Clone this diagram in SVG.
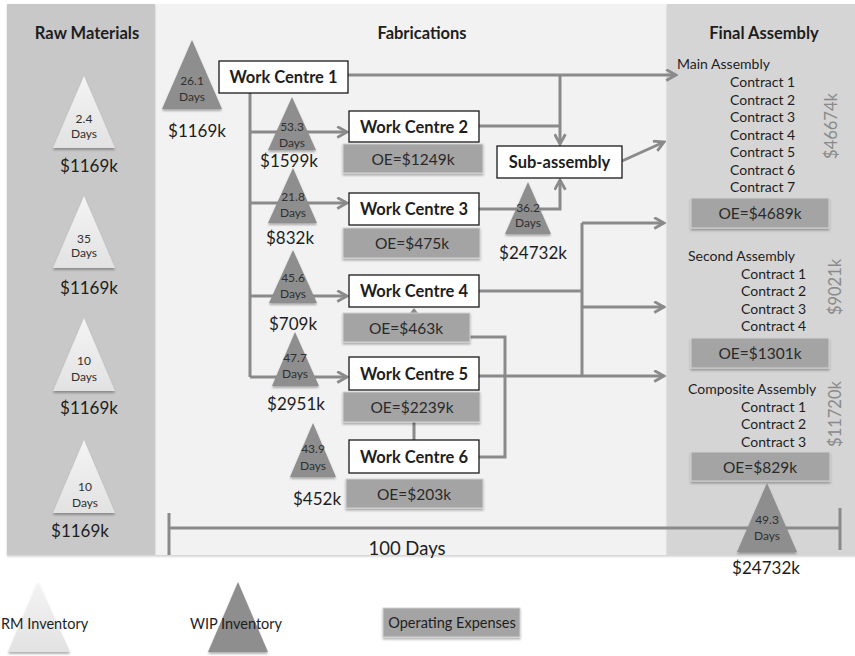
<svg xmlns="http://www.w3.org/2000/svg" width="855" height="656" viewBox="0 0 855 656">
  <style>
    text { font-family: Lato, "Liberation Sans", "DejaVu Sans", sans-serif; fill: #1e1e1e; dominant-baseline: central; }
    .hdr { font-size: 16.5px; font-weight: bold; text-anchor: middle; }
    .wc { font-size: 16.5px; font-weight: bold; text-anchor: middle; }
    .box { fill: #ffffff; stroke: #1a1a1a; stroke-width: 1.3; }
    .oe { fill: #a4a4a4; stroke: #d2d2d2; stroke-width: 1; filter: url(#shadow); }
    .oet { font-size: 15.5px; text-anchor: middle; fill: #2a2a2a; }
    .rm { fill: url(#rmGrad); filter: url(#shadow); }
    .wip { fill: #8e8e8e; filter: url(#shadow); }
    .tt { font-size: 12px; text-anchor: middle; fill: #303030; }
    .val { font-size: 17px; text-anchor: middle; }
    .ct { font-size: 14px; }
    .tot { font-size: 16.5px; text-anchor: middle; fill: #8a8a8a; }
    .conn { fill: none; stroke: #8a8a8a; stroke-width: 3; }
    .arr { marker-end: url(#chev); }
  </style>
  <defs>
    <linearGradient id="rmGrad" x1="0" y1="0" x2="0" y2="1">
      <stop offset="0" stop-color="#f4f4f4"/>
      <stop offset="1" stop-color="#e2e2e2"/>
    </linearGradient>
    <filter id="shadow" x="-20%" y="-20%" width="140%" height="150%">
      <feDropShadow dx="0" dy="2" stdDeviation="1.2" flood-color="#000" flood-opacity="0.3"/>
    </filter>
    <filter id="panelShadow" x="-5%" y="-5%" width="110%" height="110%">
      <feDropShadow dx="0" dy="1.5" stdDeviation="1" flood-color="#000" flood-opacity="0.2"/>
    </filter>
    <marker id="chev" viewBox="0 0 12 12" refX="10" refY="6" markerWidth="13" markerHeight="13" markerUnits="userSpaceOnUse" orient="auto">
      <path d="M1,1 L10,6 L1,11" fill="none" stroke="#8a8a8a" stroke-width="2.6"/>
    </marker>
  </defs>

  <!-- stage panels -->
  <g id="panels">
    <rect x="0" y="0" width="855" height="656" fill="#ffffff"/>
    <rect x="155" y="4" width="512" height="551" fill="#f2f2f2" filter="url(#panelShadow)"/>
    <rect x="7" y="4" width="148" height="551" fill="#c8c8c8" filter="url(#panelShadow)"/>
    <rect x="667" y="4" width="190" height="551" fill="#d5d5d5" filter="url(#panelShadow)"/>
    <text class="hdr" x="87" y="33">Raw Materials</text>
    <text class="hdr" x="422" y="33">Fabrications</text>
    <text class="hdr" x="764" y="33">Final Assembly</text>
  </g>

  <!-- connectors -->
  <g id="connectors">
    <path class="conn" d="M250,93 V377"/>
    <path class="conn arr" d="M250,132 H347"/>
    <path class="conn arr" d="M250,203 H347"/>
    <path class="conn arr" d="M250,296 H347"/>
    <path class="conn arr" d="M250,377 H347"/>
    <path class="conn arr" d="M348,75 H676"/>
    <path class="conn arr" d="M560,75 V144"/>
    <path class="conn" d="M479,126 H560"/>
    <path class="conn arr" d="M479,209 H560 V180"/>
    <path class="conn arr" d="M622,161 L664,142"/>
    <path class="conn" d="M479,291 H582"/>
    <path class="conn" d="M582,223 V377"/>
    <path class="conn arr" d="M582,223 H664"/>
    <path class="conn arr" d="M582,307 H664"/>
    <path class="conn arr" d="M479,376 H664"/>
    <path class="conn" d="M470,337 H505 V457 H479"/>
    <path class="conn" d="M414,422 V440"/>
    <polygon points="414,308 410,313 418,313" fill="#8a8a8a"/>
    <!-- time scale -->
    <path class="conn" d="M169,528 H840 M169,513 V555 M840,508 V550" stroke="#7e7e7e"/>
  </g>

  <!-- raw material stocks -->
  <g id="rm1">
    <polygon class="rm" points="84,76 53,148 115,148"/>
    <text class="tt" x="84" y="118">2.4</text>
    <text class="tt" x="84" y="133">Days</text>
    <text class="val" x="89" y="165">$1169k</text>
  </g>
  <g id="rm2">
    <polygon class="rm" points="84,196 53,268 115,268"/>
    <text class="tt" x="84" y="238">35</text>
    <text class="tt" x="84" y="252">Days</text>
    <text class="val" x="89" y="287">$1169k</text>
  </g>
  <g id="rm3">
    <polygon class="rm" points="84,318 53,391 115,391"/>
    <text class="tt" x="84" y="360">10</text>
    <text class="tt" x="84" y="376">Days</text>
    <text class="val" x="89" y="407">$1169k</text>
  </g>
  <g id="rm4">
    <polygon class="rm" points="84,440 53,513 115,513"/>
    <text class="tt" x="85" y="486">10</text>
    <text class="tt" x="85" y="502">Days</text>
    <text class="val" x="80" y="530">$1169k</text>
  </g>

  <!-- work in progress stocks -->
  <g id="wip1">
    <polygon class="wip" points="192,40 162,109 222,109"/>
    <text class="tt" x="192" y="80">26.1</text>
    <text class="tt" x="192" y="96">Days</text>
    <text class="val" x="197" y="130">$1169k</text>
  </g>
  <g id="wip2">
    <polygon class="wip" points="292,97 268,150 316,150"/>
    <text class="tt" x="292" y="126">53.3</text>
    <text class="tt" x="292" y="142">Days</text>
    <text class="val" x="289" y="160">$1599k</text>
  </g>
  <g id="wip3">
    <polygon class="wip" points="293,168 268,223 317,223"/>
    <text class="tt" x="293" y="196">21.8</text>
    <text class="tt" x="293" y="212">Days</text>
    <text class="val" x="290" y="237">$832k</text>
  </g>
  <g id="wip4">
    <polygon class="wip" points="293,250 269,303 317,303"/>
    <text class="tt" x="293" y="277">45.6</text>
    <text class="tt" x="293" y="293">Days</text>
    <text class="val" x="293" y="323">$709k</text>
  </g>
  <g id="wip5">
    <polygon class="wip" points="295,332 272,386 319,386"/>
    <text class="tt" x="295" y="357">47.7</text>
    <text class="tt" x="295" y="373">Days</text>
    <text class="val" x="296" y="403">$2951k</text>
  </g>
  <g id="wip6">
    <polygon class="wip" points="313,423 290,477 336,477"/>
    <text class="tt" x="313" y="448">43.9</text>
    <text class="tt" x="313" y="465">Days</text>
    <text class="val" x="317" y="498">$452k</text>
  </g>
  <g id="wip-sub">
    <polygon class="wip" points="528,182 505,234 551,234"/>
    <text class="tt" x="528" y="207">36.2</text>
    <text class="tt" x="528" y="222">Days</text>
    <text class="val" x="533" y="252">$24732k</text>
  </g>

  <!-- work centres -->
  <g id="wc1">
    <rect class="box" x="219" y="61" width="129" height="32"/>
    <text class="wc" x="283.5" y="77">Work Centre 1</text>
  </g>
  <g id="wc2">
    <rect class="box" x="349" y="111" width="130" height="31"/>
    <text class="wc" x="414" y="127">Work Centre 2</text>
    <rect class="oe" x="343" y="144" width="140" height="29"/>
    <text class="oet" x="413" y="158.5">OE=$1249k</text>
  </g>
  <g id="wc3">
    <rect class="box" x="349" y="193" width="130" height="32"/>
    <text class="wc" x="414" y="209">Work Centre 3</text>
    <rect class="oe" x="343" y="228" width="137" height="30"/>
    <text class="oet" x="412" y="243">OE=$475k</text>
  </g>
  <g id="wc4">
    <rect class="box" x="349" y="275" width="130" height="32"/>
    <text class="wc" x="414" y="291">Work Centre 4</text>
    <rect class="oe" x="343" y="313" width="127" height="29"/>
    <text class="oet" x="406" y="327.5">OE=$463k</text>
  </g>
  <g id="wc5">
    <rect class="box" x="349" y="357" width="130" height="33"/>
    <text class="wc" x="414" y="374">Work Centre 5</text>
    <rect class="oe" x="343" y="392" width="137" height="30"/>
    <text class="oet" x="412" y="407">OE=$2239k</text>
  </g>
  <g id="wc6">
    <rect class="box" x="349" y="440" width="130" height="33"/>
    <text class="wc" x="414" y="457">Work Centre 6</text>
    <rect class="oe" x="346" y="479" width="137" height="29"/>
    <text class="oet" x="414" y="494">OE=$203k</text>
  </g>
  <g id="sub-assembly">
    <rect class="box" x="497" y="146" width="125" height="32"/>
    <text class="wc" x="559.5" y="162">Sub-assembly</text>
  </g>

  <!-- final assembly lines -->
  <g id="main-assembly">
    <text class="ct" x="677" y="63">Main Assembly</text>
    <text class="ct" x="730" y="81">Contract 1</text>
    <text class="ct" x="730" y="99">Contract 2</text>
    <text class="ct" x="730" y="116">Contract 3</text>
    <text class="ct" x="730" y="134">Contract 4</text>
    <text class="ct" x="730" y="151">Contract 5</text>
    <text class="ct" x="730" y="169">Contract 6</text>
    <text class="ct" x="730" y="186">Contract 7</text>
    <text class="tot" transform="translate(831,126) rotate(-90)">$46674k</text>
    <rect class="oe" x="691" y="198" width="138" height="30"/>
    <text class="oet" x="760" y="213">OE=$4689k</text>
  </g>
  <g id="second-assembly">
    <text class="ct" x="688" y="255">Second Assembly</text>
    <text class="ct" x="741" y="273">Contract 1</text>
    <text class="ct" x="741" y="290">Contract 2</text>
    <text class="ct" x="741" y="308">Contract 3</text>
    <text class="ct" x="741" y="325">Contract 4</text>
    <text class="tot" transform="translate(835,287) rotate(-90)">$9021k</text>
    <rect class="oe" x="691" y="338" width="138" height="30"/>
    <text class="oet" x="760" y="353">OE=$1301k</text>
  </g>
  <g id="composite-assembly">
    <text class="ct" x="688" y="388">Composite Assembly</text>
    <text class="ct" x="741" y="406">Contract 1</text>
    <text class="ct" x="741" y="423">Contract 2</text>
    <text class="ct" x="741" y="441">Contract 3</text>
    <text class="tot" transform="translate(835,414) rotate(-90)">$11720k</text>
    <rect class="oe" x="691" y="452" width="139" height="29"/>
    <text class="oet" x="760" y="467">OE=$829k</text>
  </g>
  <g id="wip-final">
    <polygon class="wip" points="767,483 737,552 797,552"/>
    <text class="tt" x="767" y="519">49.3</text>
    <text class="tt" x="767" y="535">Days</text>
    <text class="val" x="766" y="567">$24732k</text>
  </g>

  <g id="time-scale">
    <text x="407" y="548" font-size="18.5" text-anchor="middle">100 Days</text>
  </g>

  <!-- key -->
  <g id="legend">
    <polygon class="rm" points="38,582 8,652 70,652"/>
    <text x="1" y="623" font-size="14.5">RM Inventory</text>
    <polygon class="wip" points="238,582 208,652 268,652"/>
    <text x="190" y="623" font-size="14.5">WIP Inventory</text>
    <rect class="oe" x="383" y="608" width="137" height="29"/>
    <text x="452" y="622.5" font-size="14.5" text-anchor="middle" fill="#2a2a2a">Operating Expenses</text>
  </g>
</svg>
